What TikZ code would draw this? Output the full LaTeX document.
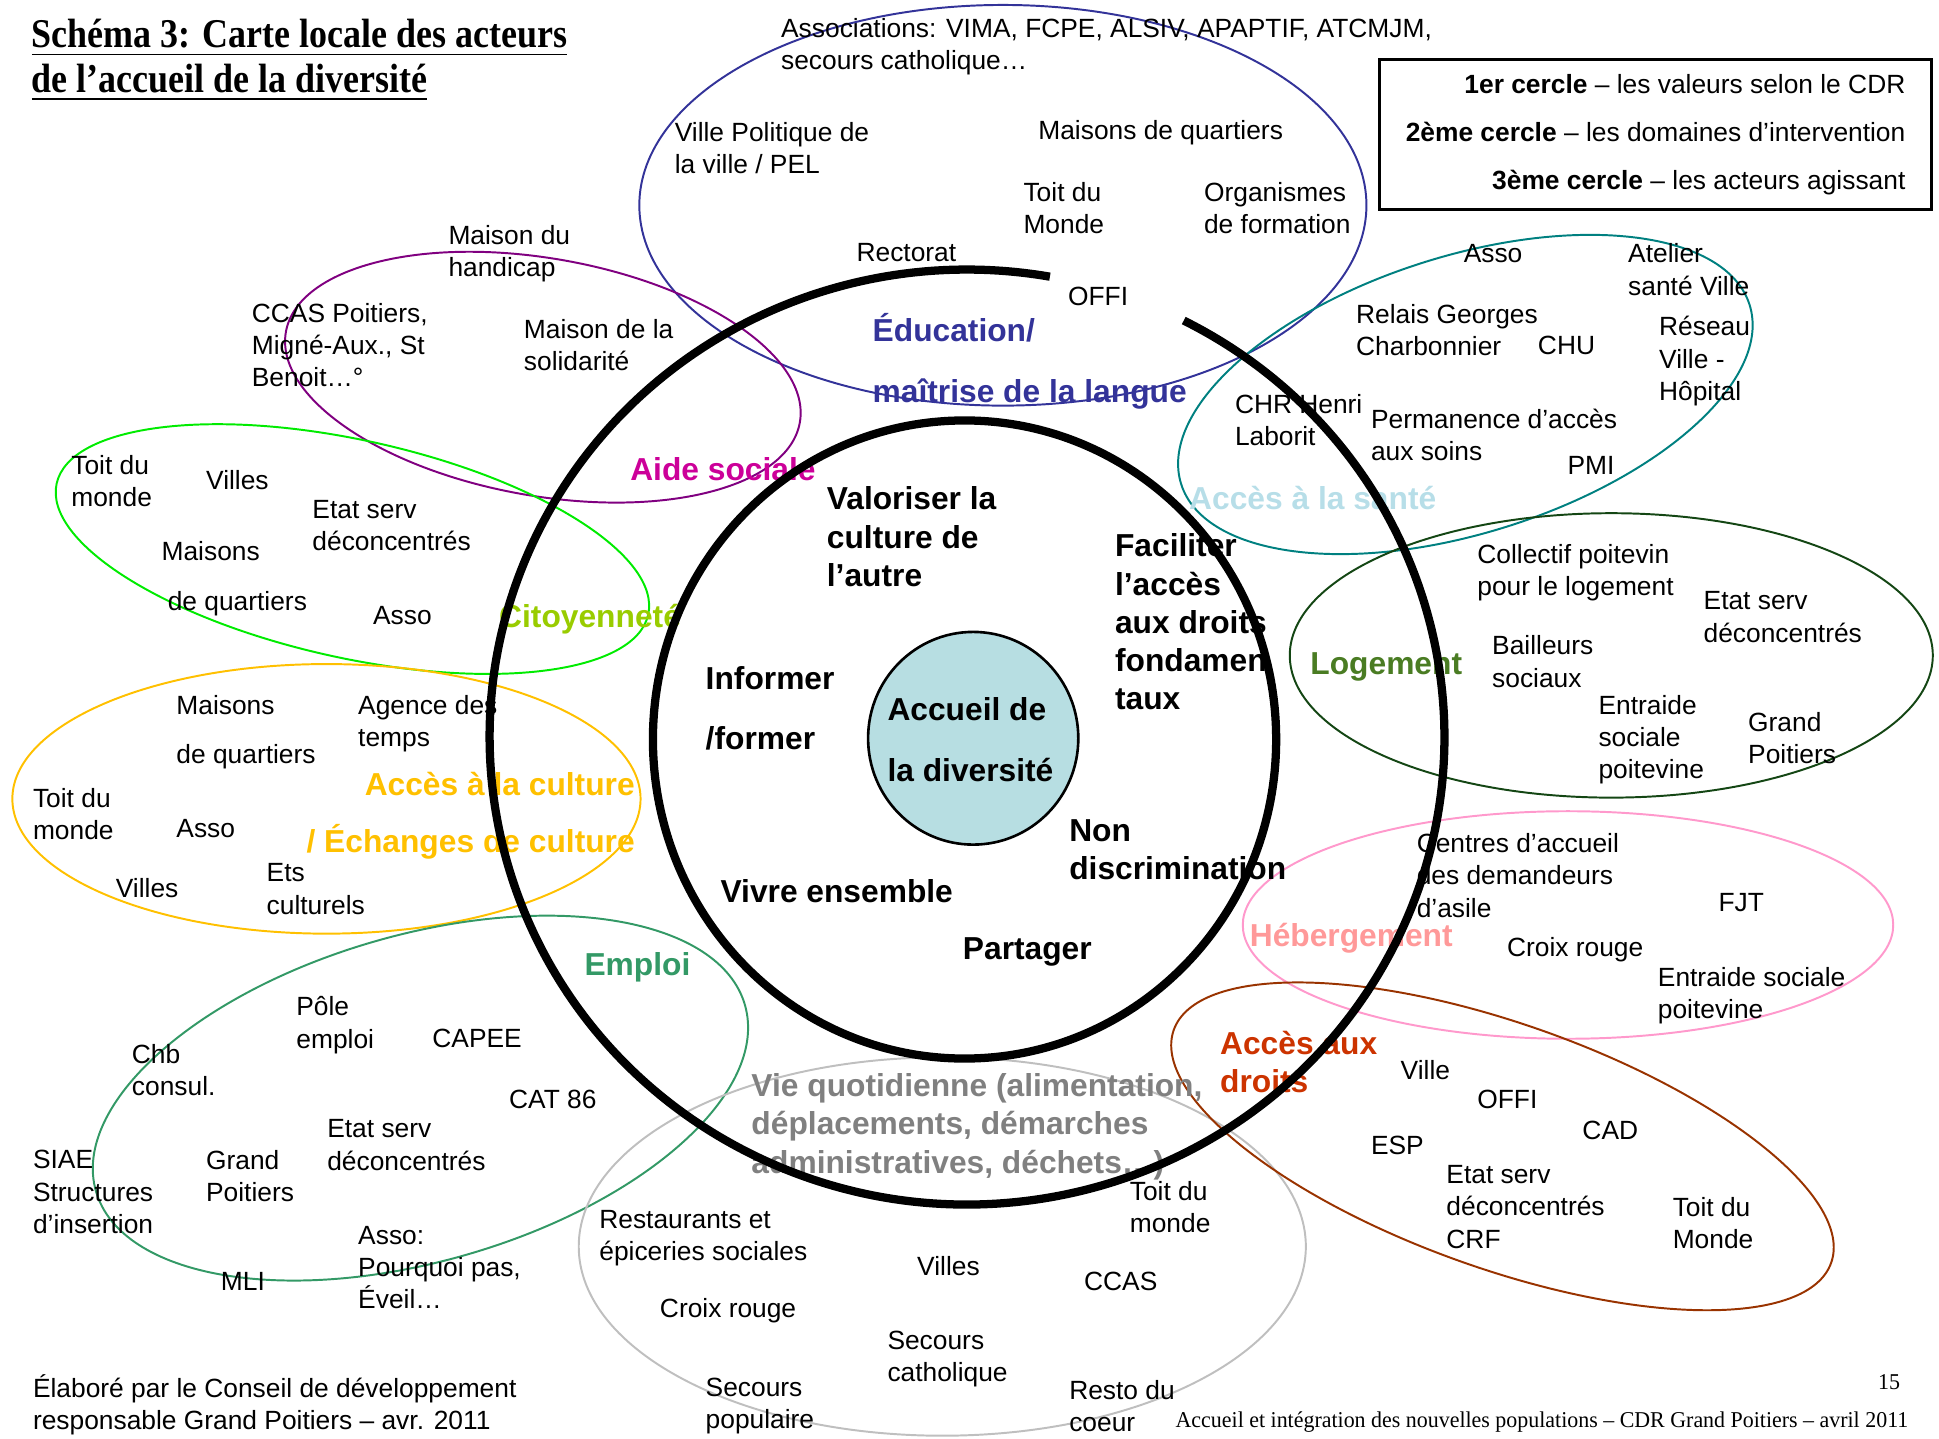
\documentclass[tikz,border=0pt]{standalone}
\usepackage{fontspec}
\setmainfont{Liberation Sans}
\newfontfamily\titlefont[FakeStretch=0.88]{Liberation Serif}
\newfontfamily\footfont[FakeStretch=0.97]{Liberation Serif}
\definecolor{edublue}{RGB}{51,51,153}
\definecolor{aideline}{RGB}{128,0,128}
\definecolor{aidetext}{RGB}{204,0,153}
\definecolor{citoline}{RGB}{0,235,0}
\definecolor{citotext}{RGB}{153,204,0}
\definecolor{culturegold}{RGB}{255,192,0}
\definecolor{emploigreen}{RGB}{51,153,102}
\definecolor{vieline}{RGB}{191,191,191}
\definecolor{vietext}{RGB}{128,128,128}
\definecolor{santeline}{RGB}{0,128,128}
\definecolor{santetext}{RGB}{183,222,232}
\definecolor{logline}{RGB}{20,70,20}
\definecolor{logtext}{RGB}{74,124,35}
\definecolor{hebline}{RGB}{255,153,204}
\definecolor{hebtext}{RGB}{255,153,153}
\definecolor{droitsline}{RGB}{153,51,0}
\definecolor{droitstext}{RGB}{204,51,0}
\definecolor{heartfill}{RGB}{183,222,226}
\begin{document}
\begin{tikzpicture}[x=0.01cm,y=-0.01cm,
    zone/.style={line width=0.45pt},
    ring/.style={line width=1.9pt},
    actor/.style={anchor=west,align=left,inner sep=0pt,yshift=-0.02cm,font=\fontsize{6.06}{7.4}\selectfont},
    themelabel/.style={anchor=west,align=left,inner sep=0pt,yshift=-0.02cm,font=\bfseries\fontsize{7.3}{8.8}\selectfont}]
    \useasboundingbox (0,0) rectangle (1568,1163);
    \draw[zone,edublue] (811,166) ellipse [x radius=294, y radius=162];
    \draw[zone,aideline,rotate around={-10:(439,305)}] (439,305) ellipse [x radius=211, y radius=96];
    \draw[zone,citoline,rotate around={-12.5:(285,444)}] (285,444) ellipse [x radius=245, y radius=88];
    \draw[zone,culturegold] (264,646) ellipse [x radius=254, y radius=109];
    \draw[zone,emploigreen,rotate around={16:(340,888)}] (340,888) ellipse [x radius=273, y radius=132];
    \draw[zone,vieline] (762,1008) ellipse [x radius=294, y radius=153];
    \draw[zone,santeline,rotate around={17.5:(1185,319)}] (1185,319) ellipse [x radius=241, y radius=112];
    \draw[zone,logline] (1303,530) ellipse [x radius=260, y radius=115];
    \draw[zone,hebline] (1268,748) ellipse [x radius=263, y radius=92];
    \draw[zone,droitsline,rotate around={-19.5:(1215,927)}] (1215,927) ellipse [x radius=282, y radius=99];

    \node[anchor=north west,align=left,inner sep=0pt,font=\titlefont\bfseries\fontsize{9.4}{10.2}\selectfont]
        (title) at (25,15) {\underline{Schéma 3: Carte locale des acteurs}\\\underline{de l’accueil de la diversité}};
    \node[draw,line width=0.6pt,anchor=north east,align=right,minimum width=4.46cm,minimum height=1.2cm,
        inner xsep=0.16cm,font=\fontsize{6.06}{11.1}\selectfont] (legend) at (1563,47)
        {\textbf{1er cercle} – les valeurs selon le CDR\\\textbf{2ème cercle} – les domaines d’intervention\\\textbf{3ème cercle} – les acteurs agissant};

    \node[actor] (assoc) at (631,36) {Associations: VIMA, FCPE, ALSIV, APAPTIF, ATCMJM,\\secours catholique…};
    \node[actor] (villepol) at (545,118) {Ville Politique de\\la ville / PEL};
    \node[actor] (mqedu) at (839,105) {Maisons de quartiers};
    \node[actor] (toitedu) at (827,166) {Toit du\\Monde};
    \node[actor] (orgform) at (973,166) {Organismes\\de formation};
    \node[actor] (rectorat) at (692,202) {Rectorat};
    \node[actor] (offiedu) at (863,238) {OFFI};
    \node[themelabel,edublue] (edu) at (705,290) {Éducation/\\[5.3pt]maîtrise de la langue};

    \node[actor] (handicap) at (362,203) {Maison du\\handicap};
    \node[actor] (ccas) at (203,277) {CCAS Poitiers,\\Migné-Aux., St\\Benoit…°};
    \node[actor] (solidarite) at (423,277) {Maison de la\\solidarité};
    \node[themelabel,aidetext] (aide) at (509,377) {Aide sociale};

    \node[actor] (toitcit) at (57,387) {Toit du\\monde};
    \node[actor] (villescit) at (166,386) {Villes};
    \node[actor] (etatcit) at (252,423) {Etat serv\\déconcentrés};
    \node[actor] (mqcit) at (130,466) {Maisons\\[4.1pt]\hspace*{0.05cm}de quartiers};
    \node[actor] (associt) at (301,496) {Asso};
    \node[themelabel,citotext] (cit) at (403,499) {Citoyenneté};

    \node[actor] (mqcul) at (142,590) {Maisons\\[3.8pt]de quartiers};
    \node[actor] (agence) at (289,583) {Agence des\\temps};
    \node[actor] (toitcul) at (26,656) {Toit du\\monde};
    \node[actor] (assocul) at (142,668) {Asso};
    \node[themelabel,culturegold,anchor=east,align=right] (cul) at (514,658) {Accès à la culture\\[4.3pt]/ Échanges de culture};
    \node[actor] (villescul) at (93,716) {Villes};
    \node[actor] (ets) at (215,717) {Ets\\culturels};

    \node[themelabel,emploigreen] (emploi) at (472,780) {Emploi};
    \node[actor] (pole) at (239,827) {Pôle\\emploi};
    \node[actor] (capee) at (349,838) {CAPEE};
    \node[actor] (chb) at (106,863) {Chb\\consul.};
    \node[actor] (cat) at (411,887) {CAT 86};
    \node[actor] (etatemp) at (264,924) {Etat serv\\déconcentrés};
    \node[actor] (siae) at (26,962) {SIAE\\Structures\\d’insertion};
    \node[actor] (gpemp) at (166,949) {Grand\\Poitiers};
    \node[actor] (assoemp) at (289,1023) {Asso:\\Pourquoi pas,\\Éveil…};
    \node[actor] (mli) at (178,1034) {MLI};

    \node[actor] (credit) at (26,1134) {Élaboré par le Conseil de développement\\responsable Grand Poitiers – avr. 2011};

    \node[themelabel,vietext] (vie) at (607,909) {Vie quotidienne (alimentation,\\déplacements, démarches\\administratives, déchets…)};
    \node[actor] (resto) at (484,999) {Restaurants et\\épiceries sociales};
    \node[actor] (toitvie) at (913,974) {Toit du\\monde};
    \node[actor] (villesvie) at (741,1022) {Villes};
    \node[actor] (ccasvie) at (876,1034) {CCAS};
    \node[actor] (croixvie) at (533,1058) {Croix rouge};
    \node[actor] (seccath) at (717,1097) {Secours\\catholique};
    \node[actor] (secpop) at (570,1135) {Secours\\populaire};
    \node[actor] (restocoeur) at (864,1135) {Resto du\\coeur};

    \node[actor] (chr) at (998,338) {CHR Henri\\Laborit};
    \node[actor] (assosan) at (1183,203) {Asso};
    \node[actor] (atelier) at (1316,216) {Atelier\\santé Ville};
    \node[actor] (relais) at (1096,265) {Relais Georges\\Charbonnier};
    \node[actor] (chu) at (1243,277) {CHU};
    \node[actor] (reseau) at (1341,290) {Réseau\\Ville -\\Hôpital};
    \node[actor] (permanence) at (1108,350) {Permanence d’accès\\aux soins};
    \node[actor] (pmi) at (1267,374) {PMI};
    \node[themelabel,santetext] (sante) at (961,401) {Accès à la santé};

    \node[themelabel,logtext] (logement) at (1059,537) {Logement};
    \node[actor] (collectif) at (1194,461) {Collectif poitevin\\pour le logement};
    \node[actor] (etatlog) at (1377,497) {Etat serv\\déconcentrés};
    \node[actor] (bailleurs) at (1206,533) {Bailleurs\\sociaux};
    \node[actor] (entraidelog) at (1292,596) {Entraide\\sociale\\poitevine};
    \node[actor] (gplog) at (1413,595) {Grand\\Poitiers};

    \node[actor] (centres) at (1145,706) {Centres d’accueil\\des demandeurs\\d’asile};
    \node[actor] (fjt) at (1389,728) {FJT};
    \node[themelabel,hebtext] (heberg) at (1010,757) {Hébergement};
    \node[actor] (croixheb) at (1218,766) {Croix rouge};
    \node[actor] (entraideheb) at (1340,803) {Entraide sociale\\poitevine};

    \node[themelabel,droitstext] (droits) at (986,857) {Accès aux\\droits};
    \node[actor] (villedr) at (1132,863) {Ville};
    \node[actor] (offidr) at (1194,887) {OFFI};
    \node[actor] (cad) at (1279,912) {CAD};
    \node[actor] (esp) at (1108,924) {ESP};
    \node[actor] (etatdr) at (1169,974) {Etat serv\\déconcentrés\\CRF};
    \node[actor] (toitdr) at (1352,987) {Toit du\\Monde};

    \node[anchor=west,inner sep=0pt,font=\footfont\fontsize{5.2}{6}\selectfont] (footer) at (950,1150)
        {Accueil et intégration des nouvelles populations – CDR Grand Poitiers – avril 2011};
    \node[anchor=west,inner sep=0pt,font=\footfont\fontsize{5.2}{6}\selectfont] (page) at (1518,1118) {15};

    \coordinate (ctr) at (782,596);
    \draw[ring] (ctr) ++(-63:386 and 378) arc[start angle=-63, end angle=280, x radius=386, y radius=378];
    \draw[ring] (780,598) ellipse [x radius=252, y radius=258];
    \draw[fill=heartfill,line width=0.6pt] (787,597) ellipse [x radius=85, y radius=86];

    \node[themelabel] (valoriser) at (668,432) {Valoriser la\\culture de\\l’autre};
    \node[themelabel] (faciliter) at (901,501) {Faciliter\\l’accès\\aux droits\\fondamen\\taux};
    \node[themelabel] (informer) at (570,571) {Informer\\[5pt]/former};
    \node[themelabel] (accueil) at (717,596) {Accueil de\\[5.3pt]la diversité};
    \node[themelabel] (nondisc) at (864,685) {Non\\discrimination};
    \node[themelabel] (vivre) at (582,719) {Vivre ensemble};
    \node[themelabel] (partager) at (778,768) {Partager};
\end{tikzpicture}
\end{document}
